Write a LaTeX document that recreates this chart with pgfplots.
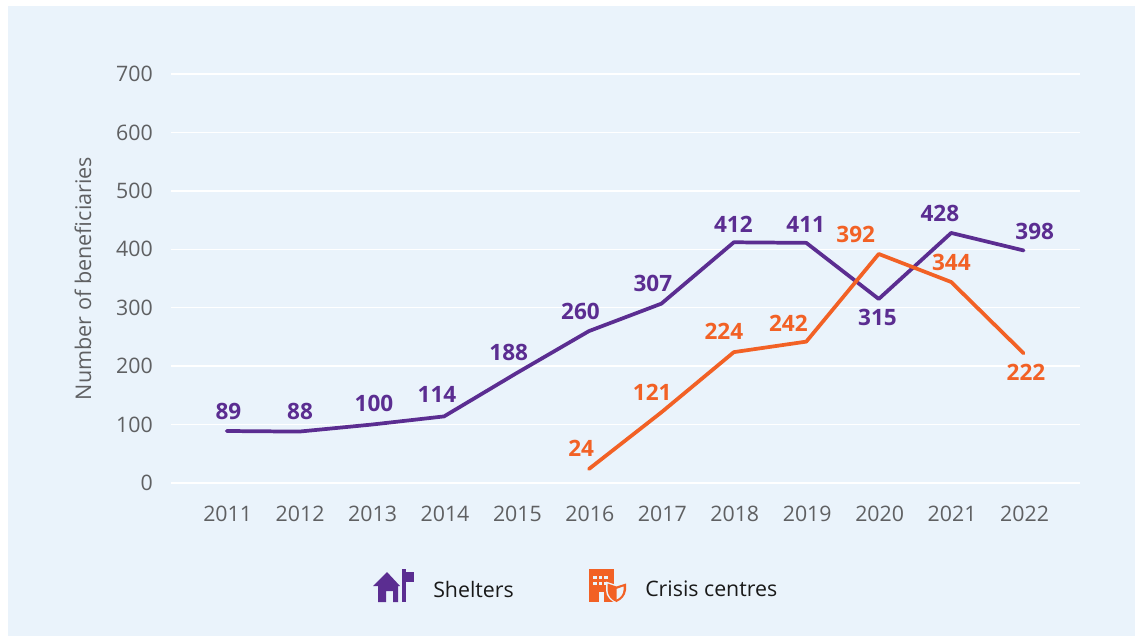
\documentclass[border=0pt]{standalone}
\usepackage{pgfplots}
\pgfplotsset{compat=1.18}
\usepackage{fontspec}
\setmainfont{Open Sans}
\definecolor{panel}{HTML}{EAF3FB}
\definecolor{purp}{HTML}{5B2D91}
\definecolor{orng}{HTML}{F26125}
\definecolor{tick}{HTML}{5F6062}
\pgfplotstableread{
x y
0 89
1 88
2 100
3 114
4 188
5 260
6 307
7 412
8 411
9 315
10 428
11 398
}\shelters
\pgfplotstableread{
x y
5 24
6 121
7 224
8 242
9 392
10 344
11 222
}\crisis
\pgfplotstableread{
x y t
0.01 123 89
1.00 123 88
2.02 137 100
2.89 151 114
3.88 224 188
4.87 293 260
5.87 342 307
6.98 443 412
7.98 443 411
8.97 283 315
9.83 462 428
11.14 430 398
}\shelterlabels
\pgfplotstableread{
x y t
4.88 60 24
5.86 156 121
6.85 260 224
7.74 274 242
8.67 426 392
9.99 378 344
11.02 190 222
}\crisislabels
\begin{document}
\begin{tikzpicture}[x=0.75pt,y=-0.75pt]
\path[fill=white] (0,0) rectangle (1135,636);
\fill[panel] (8,6) rectangle (1135,636);
\begin{axis}[
  at={(128.25pt,-362.25pt)}, anchor=south west,
  scale only axis, width=681.75pt, height=306.75pt,
  xmin=-0.769, xmax=11.778, ymin=0, ymax=700,
  axis lines=none,
  clip=false,
  ytick={0,100,...,700},
  xtick={0,...,11},
  every axis plot/.append style={line join=round},
]
\pgfplotsinvokeforeach{0,100,...,700}{
  \addplot[white, line width=1.1pt, forget plot] coordinates {(-0.769,#1) (11.778,#1)};
  \addplot[draw=none, forget plot, nodes near coords, point meta=explicit symbolic,
    nodes near coords style={font=\fontsize{16}{18}\selectfont, text=tick, anchor=east, inner sep=0pt, xshift=-13.5pt}]
    coordinates {(-0.769,#1) [#1]};
}
\addplot[draw=none, forget plot, nodes near coords, point meta=explicit symbolic,
  nodes near coords style={font=\fontsize{16}{18}\selectfont, text=tick, anchor=center, inner sep=0pt, yshift=-23pt, xshift=0.7pt}]
  coordinates {(0,0)[2011] (1,0)[2012] (2,0)[2013] (3,0)[2014] (4,0)[2015] (5,0)[2016] (6,0)[2017] (7,0)[2018] (8,0)[2019] (9,0)[2020] (10,0)[2021] (11,0)[2022]};
\addplot[purp, line width=2.8pt, line cap=round, no marks] table[x=x,y=y] {\shelters};
\addplot[orng, line width=2.8pt, line cap=round, no marks] table[x=x,y=y] {\crisis};
\addplot[draw=none, forget plot, nodes near coords, point meta=explicit symbolic,
  nodes near coords style={font=\fontsize{16.9}{20}\selectfont\bfseries, text=purp, anchor=center, inner sep=0pt, xshift=0.7pt}]
  table[x=x,y=y,meta=t] {\shelterlabels};
\addplot[draw=none, forget plot, nodes near coords, point meta=explicit symbolic,
  nodes near coords style={font=\fontsize{16.9}{20}\selectfont\bfseries, text=orng, anchor=center, inner sep=0pt, xshift=0.7pt}]
  table[x=x,y=y,meta=t] {\crisislabels};
\end{axis}
\node[rotate=90, font=\fontsize{16.2}{18}\selectfont, text=tick, inner sep=0pt] at (83,278.5) {Number of beneficiaries};
% legend
\fill[purp] (373,586) -- (387,572) -- (400,586) -- (398,586) -- (398,602) -- (393,602) -- (393,591) -- (386,591) -- (386,602) -- (378,602) -- (378,586) -- cycle;
\fill[purp] (401.5,569) rectangle (405.5,602);
\fill[purp] (405.5,572) rectangle (414,582);
\node[anchor=west, font=\fontsize{16}{18}\selectfont, text=black!90, inner sep=0pt] at (433,589) {Shelters};
\fill[orng] (589,569) rectangle (613.5,602);
\foreach \yy in {576,582}{\foreach \xx in {593,598.5,604}{\fill[panel] (\xx,\yy) rectangle +(3.5,3.2);}}
\fill[panel] (599,592) rectangle (604,602);
\fill[panel] (606,581.5) -- (616.5,585) -- (627.5,581.5) -- (627.5,590) .. controls (627,597) and (622,601) .. (616.5,603.5) .. controls (611,601) and (606,597) .. (606,590) -- cycle;
\fill[orng] (607.5,583.5) -- (616.5,586.5) -- (626,583.5) -- (626,590) .. controls (625.5,596) and (621,600) .. (616.5,602) .. controls (611.5,600) and (608,596) .. (607.5,590) -- cycle;
\fill[panel] (616.5,589) -- (623.5,586.5) -- (623.5,590) .. controls (623,595) and (620,598) .. (616.5,599.5) -- cycle;
\node[anchor=west, font=\fontsize{16}{18}\selectfont, text=black!90, inner sep=0pt] at (645,589) {Crisis centres};
\end{tikzpicture}
\end{document}
